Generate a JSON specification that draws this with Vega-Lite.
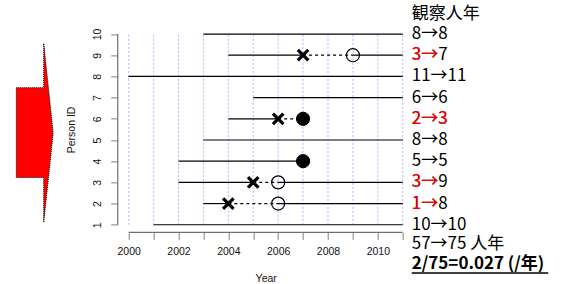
{
  "$schema": "https://vega.github.io/schema/vega-lite/v6.json",
  "width": 296,
  "height": 206,
  "autosize": {"type": "none"},
  "padding": {"left": 117.7, "top": 26.4, "right": 148.3, "bottom": 51.4},
  "background": "white",
  "resolve": {"axis": {"x": "independent", "y": "independent"}},
  "config": {
    "view": {"stroke": null},
    "font": "Liberation Sans",
    "axis": {
      "grid": false, "domain": false,
      "tickColor": "#808080", "tickSize": 7, "tickWidth": 1,
      "labelFontSize": 10.5, "labelColor": "#111",
      "titleFontSize": 10.5, "titleColor": "#111", "titleFontWeight": "normal",
      "labelOverlap": false, "labelFlush": false
    },
    "axisX": {"labelPadding": 7, "titlePadding": 17},
    "axisY": {"labelAngle": 270, "labelAlign": "center", "labelBaseline": "middle", "labelPadding": 13, "titlePadding": 16}
  },
  "datasets": {
    "years": [
      {"year": 2000}, {"year": 2001}, {"year": 2002}, {"year": 2003}, {"year": 2004}, {"year": 2005},
      {"year": 2006}, {"year": 2007}, {"year": 2008}, {"year": 2009}, {"year": 2010}, {"year": 2011}
    ],
    "segs": [
      {"id": 10, "start": 2003, "end": 2011, "kind": "solid"},
      {"id": 9, "start": 2004, "end": 2007, "kind": "solid"},
      {"id": 9, "start": 2007, "end": 2009, "kind": "dashed"},
      {"id": 9, "start": 2009, "end": 2011, "kind": "solid"},
      {"id": 8, "start": 2000, "end": 2011, "kind": "solid"},
      {"id": 7, "start": 2005, "end": 2011, "kind": "solid"},
      {"id": 6, "start": 2004, "end": 2006, "kind": "solid"},
      {"id": 6, "start": 2006, "end": 2007, "kind": "dashed"},
      {"id": 5, "start": 2003, "end": 2011, "kind": "solid"},
      {"id": 4, "start": 2002, "end": 2007, "kind": "solid"},
      {"id": 3, "start": 2002, "end": 2005, "kind": "solid"},
      {"id": 3, "start": 2005, "end": 2006, "kind": "dashed"},
      {"id": 3, "start": 2006, "end": 2011, "kind": "solid"},
      {"id": 2, "start": 2003, "end": 2004, "kind": "solid"},
      {"id": 2, "start": 2004, "end": 2006, "kind": "dashed"},
      {"id": 2, "start": 2006, "end": 2011, "kind": "solid"},
      {"id": 1, "start": 2001, "end": 2011, "kind": "solid"}
    ],
    "marks": [
      {"id": 9, "year": 2007, "kind": "x"},
      {"id": 9, "year": 2009, "kind": "open"},
      {"id": 6, "year": 2006, "kind": "x"},
      {"id": 6, "year": 2007, "kind": "filled"},
      {"id": 4, "year": 2007, "kind": "filled"},
      {"id": 3, "year": 2005, "kind": "x"},
      {"id": 3, "year": 2006, "kind": "open"},
      {"id": 2, "year": 2004, "kind": "x"},
      {"id": 2, "year": 2006, "kind": "open"}
    ],
    "arrow": [
      {"ax": 1995.49, "top": 7.47, "bot": 3.23},
      {"ax": 1996.59, "top": 7.47, "bot": 3.23},
      {"ax": 1996.591, "top": 9.56, "bot": 1.11},
      {"ax": 1996.97, "top": 5.32, "bot": 5.32}
    ],
    "axislines": [
      {"x1": 2000, "x2": 2011, "y1": 0.64, "y2": 0.64},
      {"x1": 1999.56, "x2": 1999.56, "y1": 1, "y2": 10}
    ],
    "texts": [
      {"pos": 10.95, "label": "観察人年", "red": "", "bold": false},
      {"pos": 10, "label": "8→8", "red": "", "bold": false},
      {"pos": 9, "label": "3→7", "red": "3→", "bold": false},
      {"pos": 8, "label": "11→11", "red": "", "bold": false},
      {"pos": 7, "label": "6→6", "red": "", "bold": false},
      {"pos": 6, "label": "2→3", "red": "2→3", "bold": false},
      {"pos": 5, "label": "8→8", "red": "", "bold": false},
      {"pos": 4, "label": "5→5", "red": "", "bold": false},
      {"pos": 3, "label": "3→9", "red": "3→", "bold": false},
      {"pos": 2, "label": "1→8", "red": "1→", "bold": false},
      {"pos": 1, "label": "10→10", "red": "", "bold": false},
      {"pos": 0.07, "label": "57→75 人年", "red": "", "bold": false},
      {"pos": -0.87, "label": "2/75=0.027 (/年)", "red": "", "bold": true}
    ],
    "underline": [
      {"x1": 2011.36, "x2": 2016.84, "pos": -1.28}
    ]
  },
  "layer": [
    {
      "data": {"name": "years"},
      "mark": {"type": "rule", "stroke": "#b4b4ff", "strokeWidth": 1, "strokeDash": [2, 2]},
      "encoding": {
        "x": {
          "field": "year", "type": "quantitative",
          "scale": {"domain": [1999.56, 2011.44], "nice": false, "zero": false},
          "axis": {
            "title": "Year",
            "values": [2000, 2001, 2002, 2003, 2004, 2005, 2006, 2007, 2008, 2009, 2010, 2011],
            "labelExpr": "datum.value % 2 == 0 ? '' + datum.value : ''",
            "labelOverlap": false
          }
        },
        "y": {
          "datum": 1, "type": "quantitative",
          "scale": {"domain": [0.64, 10.36], "nice": false, "zero": false},
          "axis": {
            "title": "Person ID",
            "values": [1, 2, 3, 4, 5, 6, 7, 8, 9, 10],
            "labelOverlap": false
          }
        },
        "y2": {"datum": 10}
      }
    },
    {
      "data": {"name": "axislines"},
      "mark": {"type": "rule", "stroke": "#707070", "strokeWidth": 1.2},
      "encoding": {
        "x": {"field": "x1", "type": "quantitative", "axis": null},
        "x2": {"field": "x2"},
        "y": {"field": "y1", "type": "quantitative", "axis": null},
        "y2": {"field": "y2"}
      }
    },
    {
      "data": {"name": "segs"},
      "transform": [{"filter": "datum.kind == 'solid'"}],
      "mark": {"type": "rule", "stroke": "black", "strokeWidth": 1.2},
      "encoding": {
        "x": {"field": "start", "type": "quantitative", "axis": null},
        "x2": {"field": "end"},
        "y": {"field": "id", "type": "quantitative", "axis": null}
      }
    },
    {
      "data": {"name": "segs"},
      "transform": [{"filter": "datum.kind == 'dashed'"}],
      "mark": {"type": "rule", "stroke": "black", "strokeWidth": 1.2, "strokeDash": [3, 3]},
      "encoding": {
        "x": {"field": "start", "type": "quantitative", "axis": null},
        "x2": {"field": "end"},
        "y": {"field": "id", "type": "quantitative", "axis": null}
      }
    },
    {
      "data": {"name": "marks"},
      "transform": [{"filter": "datum.kind == 'x'"}],
      "mark": {"type": "point", "shape": "M-1,-1L1,1M-1,1L1,-1", "size": 110, "filled": false, "stroke": "black", "strokeWidth": 3.2, "opacity": 1},
      "encoding": {
        "x": {"field": "year", "type": "quantitative", "axis": null},
        "y": {"field": "id", "type": "quantitative", "axis": null}
      }
    },
    {
      "data": {"name": "marks"},
      "transform": [{"filter": "datum.kind == 'open'"}],
      "mark": {"type": "point", "shape": "circle", "size": 170, "filled": false, "stroke": "black", "strokeWidth": 1.2, "opacity": 1},
      "encoding": {
        "x": {"field": "year", "type": "quantitative", "axis": null},
        "y": {"field": "id", "type": "quantitative", "axis": null}
      }
    },
    {
      "data": {"name": "marks"},
      "transform": [{"filter": "datum.kind == 'filled'"}],
      "mark": {"type": "point", "shape": "circle", "size": 175, "filled": true, "fill": "black", "stroke": "black", "strokeWidth": 1, "opacity": 1},
      "encoding": {
        "x": {"field": "year", "type": "quantitative", "axis": null},
        "y": {"field": "id", "type": "quantitative", "axis": null}
      }
    },
    {
      "data": {"name": "arrow"},
      "mark": {"type": "area", "fill": "#ff0000", "stroke": "black", "strokeWidth": 1, "strokeDash": [1, 1], "orient": "vertical", "opacity": 1, "fillOpacity": 1},
      "encoding": {
        "x": {"field": "ax", "type": "quantitative", "axis": null},
        "y": {"field": "top", "type": "quantitative", "axis": null},
        "y2": {"field": "bot"}
      }
    },
    {
      "data": {"name": "texts"},
      "transform": [{"filter": "!datum.bold"}],
      "mark": {"type": "text", "align": "left", "baseline": "middle", "dx": 9, "fontSize": 17, "font": "Noto Sans CJK JP", "color": "black"},
      "encoding": {
        "x": {"datum": 2011, "type": "quantitative", "axis": null},
        "y": {"field": "pos", "type": "quantitative", "axis": null},
        "text": {"field": "label"}
      }
    },
    {
      "data": {"name": "texts"},
      "transform": [{"filter": "datum.red != ''"}],
      "mark": {"type": "text", "align": "left", "baseline": "middle", "dx": 9, "fontSize": 17, "font": "Noto Sans CJK JP", "color": "#ff0000"},
      "encoding": {
        "x": {"datum": 2011, "type": "quantitative", "axis": null},
        "y": {"field": "pos", "type": "quantitative", "axis": null},
        "text": {"field": "red"}
      }
    },
    {
      "data": {"name": "texts"},
      "transform": [{"filter": "datum.bold"}],
      "mark": {"type": "text", "align": "left", "baseline": "middle", "dx": 9, "fontSize": 17, "fontWeight": "bold", "font": "Noto Sans CJK JP", "color": "black"},
      "encoding": {
        "x": {"datum": 2011, "type": "quantitative", "axis": null},
        "y": {"field": "pos", "type": "quantitative", "axis": null},
        "text": {"field": "label"}
      }
    },
    {
      "data": {"name": "underline"},
      "mark": {"type": "rule", "stroke": "black", "strokeWidth": 1.5},
      "encoding": {
        "x": {"field": "x1", "type": "quantitative", "axis": null},
        "x2": {"field": "x2"},
        "y": {"field": "pos", "type": "quantitative", "axis": null}
      }
    }
  ]
}
